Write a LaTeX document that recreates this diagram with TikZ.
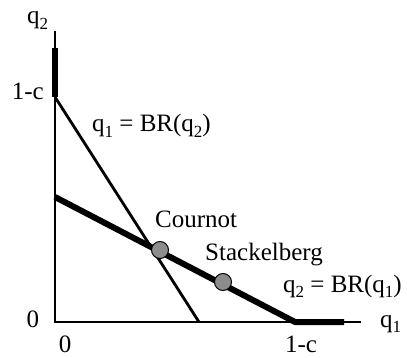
\documentclass[tikz,border=0pt]{standalone}
\usepackage{fontspec}
\setmainfont{Liberation Serif}
\definecolor{ptgray}{RGB}{140,140,140}
\newcommand\lsub[1]{\raisebox{-5.5pt}{\fontsize{17}{17}\selectfont #1}}
\begin{document}
\begin{tikzpicture}[x=1pt,y=-1pt,
  lbl/.style={font=\fontsize{25}{28}\selectfont, inner sep=0pt},
  axisline/.style={line width=1.3pt},
  thickline/.style={line width=6pt},
  medline/.style={line width=2.8pt},
  eqpt/.style={circle, draw=black, line width=1pt, fill=ptgray, minimum size=17pt, inner sep=0pt}]
\useasboundingbox (0,0) rectangle (407,358);
% key points
\coordinate (O) at (55,322);
\coordinate (ytop) at (55,31);
\coordinate (xend) at (361,322);
\coordinate (A) at (55,97);
\coordinate (Atop) at (55,48);
\coordinate (B) at (295,322);
\coordinate (Bend) at (344,322);
\coordinate (C) at (55,197);
\coordinate (D) at (199,322);
% axes
\draw[axisline] (ytop) -- (O) -- (xend);
% best responses
\draw[thickline] (Atop) -- (A);
\draw[medline] (A) -- (D);
\draw[thickline, line join=bevel] (C) -- (B) -- (Bend);
% equilibria
\node[eqpt] (cournot) at (160,250) {};
\node[eqpt] (stack) at (223,282) {};
% labels
\node[lbl, anchor=base west] (lq2) at (27,24) {q\lsub{2}};
\node[lbl, anchor=base east] (lyc) at (44,100) {1-c};
\node[lbl, anchor=base west] (lbr2) at (92,132) {q\lsub{1} = BR(q\lsub{2})};
\node[lbl, anchor=base west] (lcour) at (155,228) {Cournot};
\node[lbl, anchor=base west] (lstack) at (205,261) {Stackelberg};
\node[lbl, anchor=base west] (lbr1) at (283,292) {q\lsub{2} = BR(q\lsub{1})};
\node[lbl, anchor=base] (ly0) at (33,327) {0};
\node[lbl, anchor=base] (lx0) at (65,352) {0};
\node[lbl, anchor=base] (lxc) at (301,352) {1-c};
\node[lbl, anchor=base west] (lq1) at (380,327) {q\lsub{1}};
\end{tikzpicture}
\end{document}
